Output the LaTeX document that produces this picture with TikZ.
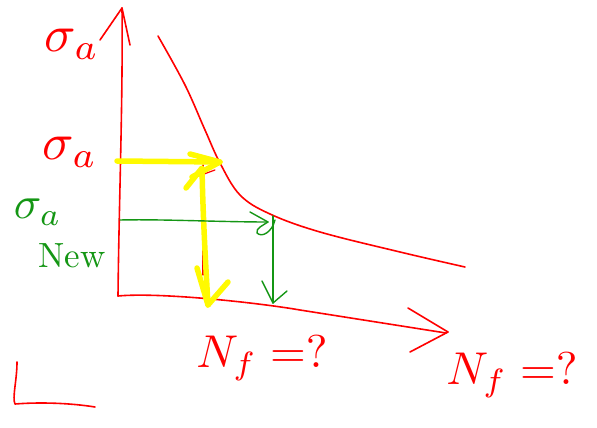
\documentclass[tikz,border=0pt]{standalone}
\usetikzlibrary{calc}
\definecolor{penred}{RGB}{255,0,0}
\definecolor{pengreen}{RGB}{20,150,20}
\definecolor{penyellow}{RGB}{255,250,0}
\begin{document}
\begin{tikzpicture}[x=1pt,y=-1pt,
  redpen/.style={draw=penred,line width=1.6pt,line cap=round,line join=round},
  greenpen/.style={draw=pengreen,line width=1.4pt,line cap=round,line join=round},
  yellowpen/.style={draw=penyellow,line width=5.5pt,line cap=round,line join=round},
  redtxt/.style={text=penred,inner sep=0pt,scale=4.6},
  sigtxt/.style={text=penred,inner sep=0pt,scale=5.2},
  greentxt/.style={text=pengreen,inner sep=0pt,scale=3.5}]
\useasboundingbox (0,0) rectangle (597,428);
\fill[white] (0,0) rectangle (597,428);
% axes
\coordinate (o) at (118,296);
\coordinate (ytop) at (122,8);
\coordinate (xend) at (446,333);
\draw[redpen] (o) .. controls (119,200) and (123,100) .. (ytop);
\draw[redpen] (100,40) -- (ytop) -- (130,45);
\draw[redpen] (o) .. controls (160,292) and (260,303) .. (300,310) -- (xend);
\draw[redpen] (408,308) -- (448,332) -- (410,352);
% curve
\draw[redpen] plot[smooth,tension=0.6] coordinates {(158,36) (185,85) (205,130) (220,163) (240,195) (270,214) (320,232) (400,252) (465,267)};
% red vertical under yellow
\draw[redpen,line width=1.2pt] (203,165) -- (203,275);
\draw[redpen,line width=1.2pt] (193,178) -- (215,170);
% yellow arrows
\draw[yellowpen] (117,161) -- (220,162);
\draw[yellowpen] (190,154) -- (220,162) -- (192,177);
\draw[yellowpen] (186,188) -- (202,168) .. controls (203,220) and (206,270) .. (208,305);
\draw[yellowpen] (197,268) -- (208,305) -- (228,282);
% green arrows
\coordinate (g1) at (120,220);
\coordinate (g2) at (268,222);
\draw[greenpen] (g1) .. controls (160,219) and (220,222) .. (g2);
\draw[greenpen] (250,212) -- (268,222) .. controls (262,226) and (256,228) .. (257,233) .. controls (262,238) and (272,232) .. (275,220);
\draw[greenpen] (273,216) -- (273,303);
\draw[greenpen] (262,281) -- (273,303) -- (287,291);
% labels
\node[sigtxt] (s1) at (72,44) {$\sigma_a$};
\node[sigtxt] (s2) at (70,152) {$\sigma_a$};
\node[greentxt,scale=1.3] (s3) at (38,212) {$\sigma_a$};
\node[greentxt] (nw) at (72,256) {New};
\node[redtxt] (nf1) at (262,358) {$N_f = ?$};
\node[redtxt] (nf2) at (512,375) {$N_f = ?$};
% L mark
\draw[redpen] (17,362) .. controls (17,380) and (12,398) .. (15,404) .. controls (40,402) and (70,403) .. (95,407);
\end{tikzpicture}
\end{document}
